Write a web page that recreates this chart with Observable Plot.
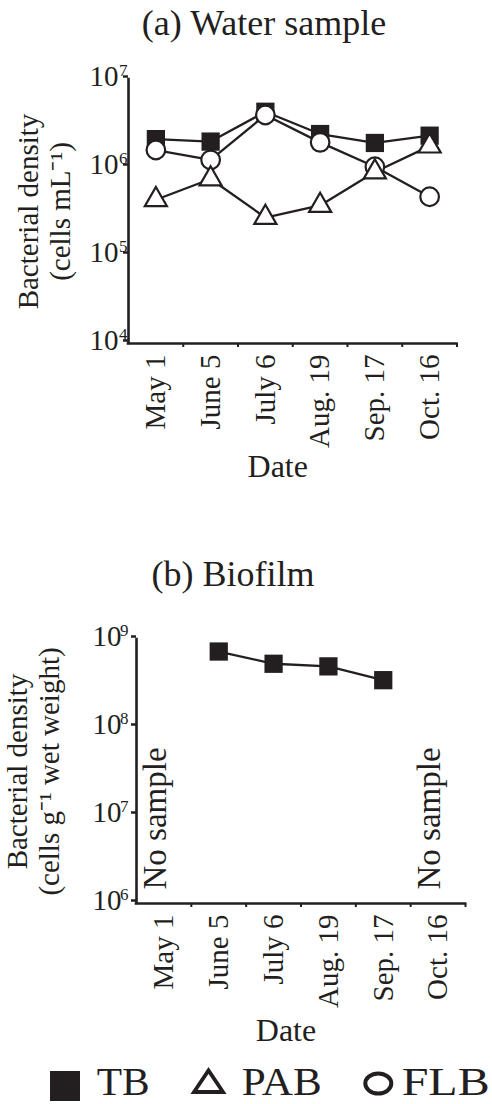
<!DOCTYPE html>
<html><head><meta charset="utf-8">
<script src="https://cdn.jsdelivr.net/npm/d3@7"></script>
<script src="https://cdn.jsdelivr.net/npm/@observablehq/plot@0.6"></script>
<style>
html,body{margin:0;padding:0;background:#fff;}
#root{position:relative;width:492px;height:1104px;overflow:hidden;font-family:"Liberation Serif","Times New Roman",serif;color:#231f20;}
.title{position:absolute;font-size:36px;line-height:36px;white-space:nowrap;transform:translateX(-50%);}
.panel{position:absolute;left:0;}
</style></head><body><div id="root">
<div class="title" style="left:264px;top:5px">(a) Water sample</div>
<div class="panel" id="pa" style="top:50px"></div>
<div class="title" style="left:233px;top:556px">(b) Biofilm</div>
<div class="panel" id="pb" style="top:610px"></div>
<div class="panel" id="legend" style="top:1050px"></div>
</div>
<script>
const dates = ["May 1", "June 5", "July 6", "Aug. 19", "Sep. 17", "Oct. 16"];
const waterTB  = [2.1e6, 1.97e6, 4.3e6, 2.4e6, 1.9e6, 2.3e6];
const waterPAB = [4.3e5, 7.4e5, 2.7e5, 3.7e5, 8.9e5, 1.75e6];
const waterFLB = [1.58e6, 1.22e6, 3.95e6, 1.93e6, 1.02e6, 4.65e5];
const biofilmTB = [null, 7.3e8, 5.3e8, 4.95e8, 3.45e8, null];
const waterTicks = [1e4, 1e5, 1e6, 1e7];
const biofilmTicks = [1e6, 1e7, 1e8, 1e9];
const noSampleDates = ["May 1", "Oct. 16"];
const seriesNames = ["TB", "PAB", "FLB"];

const ink = "#231f20";
const font = "Liberation Serif, Times New Roman, serif";

function rowsOf(series, values) {
  return values.map((v, i) => ({series, date: dates[i], pos: i + 0.5, value: v})).filter(d => d.value != null);
}

const waterRows = [
  ...rowsOf("TB", waterTB),
  ...rowsOf("PAB", waterPAB),
  ...rowsOf("FLB", waterFLB)
];
const biofilmRows = rowsOf("TB", biofilmTB);

const styles = {
  TB:  {symbol: "square", r: 10.3, fill: ink, stroke: "none"},
  FLB: {symbol: "circle", r: 9.3, fill: "white", stroke: ink, strokeWidth: 2.2},
  PAB: {symbol: "triangle", r: 8.2, fill: "white", stroke: ink, strokeWidth: 2.2}
};

function makePanel({rows, ticks, ylabel, marginLeft, marginRight, labelDx, tenPad, supPad, dateDy, extra = []}) {
  const order = ["TB", "FLB", "PAB"];
  return Plot.plot({
    width: 492, height: 440,
    marginTop: 29, marginBottom: 147, marginLeft, marginRight,
    x: {domain: [0, dates.length], label: null},
    y: {type: "log", domain: [ticks[0], ticks[ticks.length - 1]], label: null},
    style: {fontFamily: font, color: ink, background: "transparent", overflow: "visible"},
    marks: [
      Plot.line(rows, {x: "pos", y: "value", z: "series", stroke: ink, strokeWidth: 2.3}),
      ...order.filter(s => rows.some(d => d.series === s)).map(s =>
        Plot.dot(rows.filter(d => d.series === s), {x: "pos", y: "value", ...styles[s]})),
      Plot.ruleX([0], {stroke: ink, strokeWidth: 2.6, strokeLinecap: "square"}),
      Plot.ruleY([ticks[0]], {stroke: ink, strokeWidth: 2.6, strokeLinecap: "square"}),
      Plot.axisY({ticks, tickFormat: () => "10", tickSize: 5, tickPadding: tenPad, fontSize: 29, dy: -3, strokeWidth: 2.5, label: null}),
      Plot.axisY({ticks, tickFormat: d => String(Math.round(Math.log10(d))), tickSize: 0, tickPadding: supPad, fontSize: 17, dy: -9, label: null}),
      Plot.axisX({ticks: dates.map((d, i) => i + 1), tickFormat: () => "", tickSize: 4, strokeWidth: 2, label: null}),
      Plot.axisX({ticks: dates.map((d, i) => i + 0.5), tickFormat: v => dates[Math.floor(v)], tickSize: 0, tickPadding: 11, tickRotate: -90, fontSize: 29, label: null}),
      Plot.text([ylabel], {text: d => d, frameAnchor: "left", rotate: -90, dx: labelDx, fontSize: 29, lineHeight: 1.1, textAnchor: "middle", fill: ink}),
      Plot.text(["Date"], {text: d => d, frameAnchor: "bottom", dx: -15, dy: dateDy, fontSize: 32, fill: ink}),
      ...extra
    ]
  });
}

document.getElementById("pa").appendChild(makePanel({
  rows: waterRows, ticks: waterTicks,
  ylabel: "Bacterial density\n(cells mL\u207B\u00B9)",
  marginLeft: 128, marginRight: 35.5, labelDx: -85, tenPad: 5, supPad: 1, dateDy: 133
}));

const noSampleRows = noSampleDates.map(d => ({date: d, pos: dates.indexOf(d) + 0.5}));
document.getElementById("pb").appendChild(makePanel({
  rows: biofilmRows, ticks: biofilmTicks,
  ylabel: "Bacterial density\n(cells g\u207B\u00B9 wet weight)",
  marginLeft: 136, marginRight: 27, labelDx: -104, tenPad: 10, supPad: 8, dateDy: 137,
  extra: [Plot.text(noSampleRows, {x: "pos", text: () => "No sample", frameAnchor: "bottom", rotate: -90, textAnchor: "start", dx: 2, dy: -14, fontSize: 33, fill: ink})]
}));

// legend
const ns = "http://www.w3.org/2000/svg";
const lg = document.createElementNS(ns, "svg");
lg.setAttribute("width", 492); lg.setAttribute("height", 54);
lg.style.fontFamily = font;
const legendItems = [
  {name: seriesNames[0], tx: 96.7, tl: 53, shape: `<rect x="50" y="21" width="30" height="30" fill="${ink}"/>`},
  {name: seriesNames[1], tx: 241.7, tl: 80, shape: `<path d="M194,42L223,42L208.5,20.5Z" fill="white" stroke="${ink}" stroke-width="3.8" stroke-linejoin="miter"/>`},
  {name: seriesNames[2], tx: 401.7, tl: 88, shape: `<ellipse cx="378.3" cy="33.5" rx="13" ry="10" fill="white" stroke="${ink}" stroke-width="4"/>`}
];
lg.innerHTML = legendItems.map(it =>
  it.shape + `<text x="${it.tx}" y="44.5" font-size="41" fill="${ink}" textLength="${it.tl}" lengthAdjust="spacingAndGlyphs">${it.name}</text>`
).join("");
document.getElementById("legend").appendChild(lg);
</script>
</body></html>
